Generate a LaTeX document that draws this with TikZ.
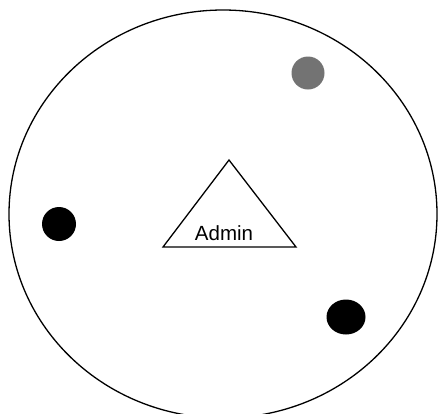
\documentclass[tikz,border=0pt]{standalone}
\usepackage{fontspec}
\setmainfont{Liberation Sans}
\usetikzlibrary{shapes.geometric}
\begin{document}
\begin{tikzpicture}[x=1pt,y=-1pt,
  outline/.style={line width=1.3pt,draw=black},
  member/.style={circle,fill=black,inner sep=0pt}]
\useasboundingbox (0,0) rectangle (438,413);
\clip (0,0) rectangle (438,413);
\fill[white] (0,0) rectangle (438,413);
\draw[outline] (223,214) ellipse [x radius=214, y radius=204];
\coordinate (apex) at (229,160);
\coordinate (bl) at (163,247);
\coordinate (br) at (296,247);
\draw[outline,line join=miter] (apex) -- (bl) -- (br) -- cycle;
\node (admin) at (224,233) {\fontsize{20.5}{24}\selectfont Admin};
\node[member,fill=black!55,minimum size=33pt] (m1) at (308,73) {};
\node[member,minimum size=34pt] (m2) at (59,224) {};
\node[member,ellipse,minimum width=39pt,minimum height=35pt] (m3) at (346,317) {};
\end{tikzpicture}
\end{document}
